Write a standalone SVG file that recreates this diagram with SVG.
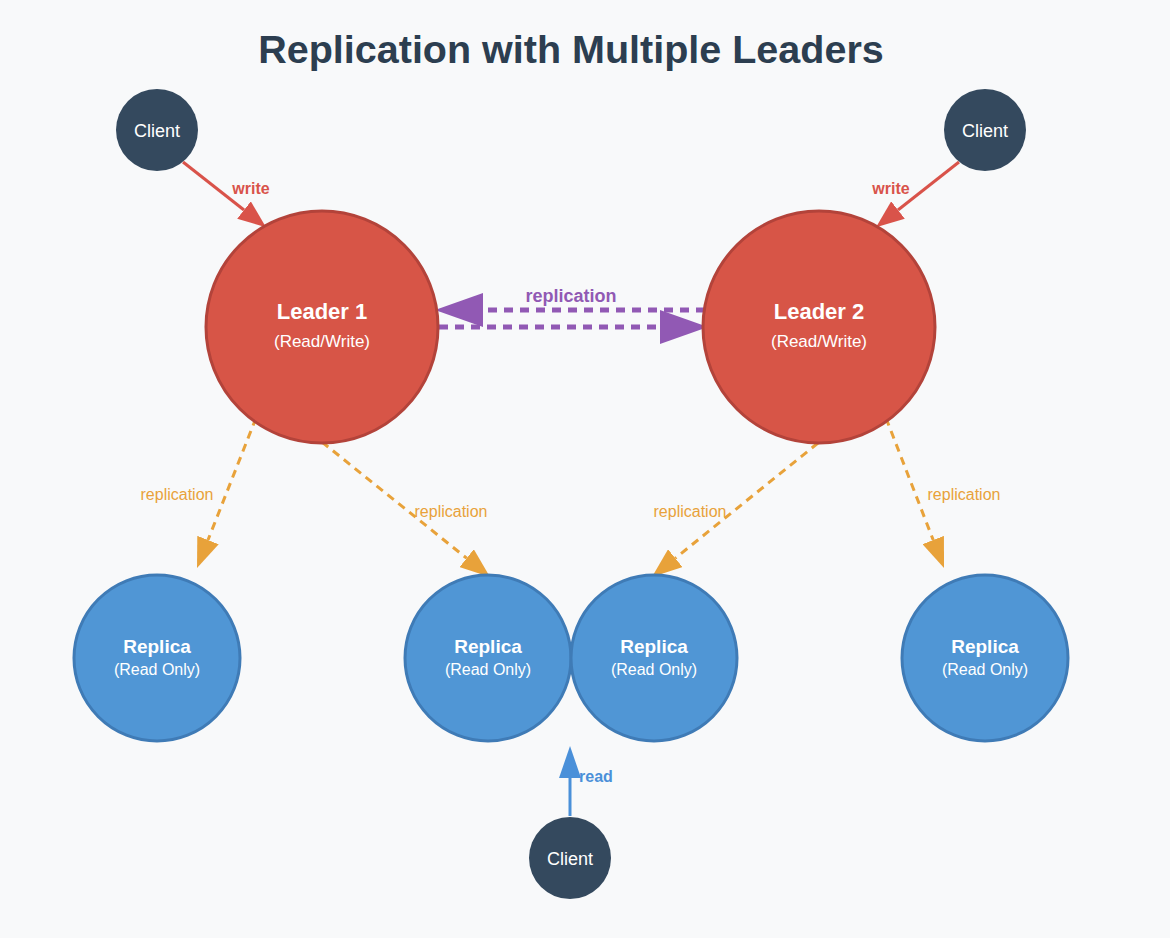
<svg xmlns="http://www.w3.org/2000/svg" width="1170" height="938" viewBox="0 0 1170 938">
<style>
text{font-family:"Liberation Sans",Arial,sans-serif;}
.title{font-size:39.5px;font-weight:bold;fill:#2c3e50;text-anchor:middle;}
.client circle{fill:#34495e;}
.client text{fill:#fff;font-size:18px;text-anchor:middle;}
.leader circle{fill:#d75547;stroke:#b3433a;stroke-width:3;}
.replica circle{fill:#5096d5;stroke:#3f7bb6;stroke-width:3;}
.leader text,.replica text{fill:#fff;text-anchor:middle;}
.big{font-weight:bold;}
.write{stroke:#d9534a;stroke-width:3;fill:none;}
.rep{stroke:#e8a23a;stroke-width:3;stroke-dasharray:8,6;fill:none;}
.mm{stroke:#9159b4;stroke-width:5;stroke-dasharray:9,7;fill:none;}
.read{stroke:#4a90d9;stroke-width:3;fill:none;}
.lw{fill:#d9534a;font-size:16px;font-weight:bold;text-anchor:middle;}
.lr{fill:#e8a23a;font-size:16px;text-anchor:middle;}
.lm{fill:#9159b4;font-size:18px;font-weight:bold;text-anchor:middle;}
.lb{fill:#4a90d9;font-size:16px;font-weight:bold;text-anchor:middle;}
</style>
<defs>
<marker id="aw" viewBox="0 0 10 10" refX="0" refY="5" markerUnits="userSpaceOnUse" markerWidth="28" markerHeight="22" orient="auto" preserveAspectRatio="none"><path d="M0,0 L10,5 L0,10 z" fill="#d9534a"/></marker>
<marker id="ar" viewBox="0 0 10 10" refX="0" refY="5" markerUnits="userSpaceOnUse" markerWidth="30" markerHeight="23" orient="auto" preserveAspectRatio="none"><path d="M0,0 L10,5 L0,10 z" fill="#e8a23a"/></marker>
<marker id="am" viewBox="0 0 10 10" refX="0" refY="5" markerUnits="userSpaceOnUse" markerWidth="48" markerHeight="34" orient="auto" preserveAspectRatio="none"><path d="M0,0 L10,5 L0,10 z" fill="#9159b4"/></marker>
<marker id="ab" viewBox="0 0 10 10" refX="0" refY="5" markerUnits="userSpaceOnUse" markerWidth="32" markerHeight="22" orient="auto" preserveAspectRatio="none"><path d="M0,0 L10,5 L0,10 z" fill="#4a90d9"/></marker>
</defs>
<rect width="1170" height="938" fill="#f8f9fa"/>
<text class="title" x="571" y="63">Replication with Multiple Leaders</text>

<g id="connectors">
<line class="write" x1="183" y1="162" x2="244" y2="210" marker-end="url(#aw)"/>
<line class="write" x1="959" y1="162" x2="898" y2="210" marker-end="url(#aw)"/>
<line class="mm" x1="705" y1="310" x2="483" y2="310" marker-end="url(#am)"/>
<line class="mm" x1="439" y1="327" x2="660" y2="327" marker-end="url(#am)"/>
<line class="rep" x1="256" y1="418" x2="208" y2="540" marker-end="url(#ar)"/>
<line class="rep" x1="322" y1="442" x2="466.6" y2="558.2" marker-end="url(#ar)"/>
<line class="rep" x1="818" y1="443" x2="675.3" y2="558.2" marker-end="url(#ar)"/>
<line class="rep" x1="886" y1="418" x2="933.2" y2="540" marker-end="url(#ar)"/>
<line class="read" x1="570" y1="816" x2="570" y2="778" marker-end="url(#ab)"/>
<text class="lw" x="251" y="194">write</text>
<text class="lw" x="891" y="194">write</text>
<text class="lm" x="571" y="302">replication</text>
<text class="lr" x="177" y="500">replication</text>
<text class="lr" x="451" y="517">replication</text>
<text class="lr" x="690" y="517">replication</text>
<text class="lr" x="964" y="500">replication</text>
<text class="lb" x="596" y="782">read</text>
</g>

<g id="client1" class="client"><circle cx="157" cy="130" r="41"/><text x="157" y="137">Client</text></g>
<g id="client2" class="client"><circle cx="985" cy="130" r="41"/><text x="985" y="137">Client</text></g>
<g id="client3" class="client"><circle cx="570" cy="858" r="41"/><text x="570" y="865">Client</text></g>

<g id="leader1" class="leader"><circle cx="322" cy="327" r="116"/><text class="big" x="322" y="319" font-size="22">Leader 1</text><text x="322" y="347" font-size="17">(Read/Write)</text></g>
<g id="leader2" class="leader"><circle cx="819" cy="327" r="116"/><text class="big" x="819" y="319" font-size="22">Leader 2</text><text x="819" y="347" font-size="17">(Read/Write)</text></g>

<g id="replica1" class="replica"><circle cx="157" cy="658" r="83"/><text class="big" x="157" y="653" font-size="19">Replica</text><text x="157" y="675" font-size="16">(Read Only)</text></g>
<g id="replica2" class="replica"><circle cx="488" cy="658" r="83"/><text class="big" x="488" y="653" font-size="19">Replica</text><text x="488" y="675" font-size="16">(Read Only)</text></g>
<g id="replica3" class="replica"><circle cx="654" cy="658" r="83"/><text class="big" x="654" y="653" font-size="19">Replica</text><text x="654" y="675" font-size="16">(Read Only)</text></g>
<g id="replica4" class="replica"><circle cx="985" cy="658" r="83"/><text class="big" x="985" y="653" font-size="19">Replica</text><text x="985" y="675" font-size="16">(Read Only)</text></g>
</svg>
